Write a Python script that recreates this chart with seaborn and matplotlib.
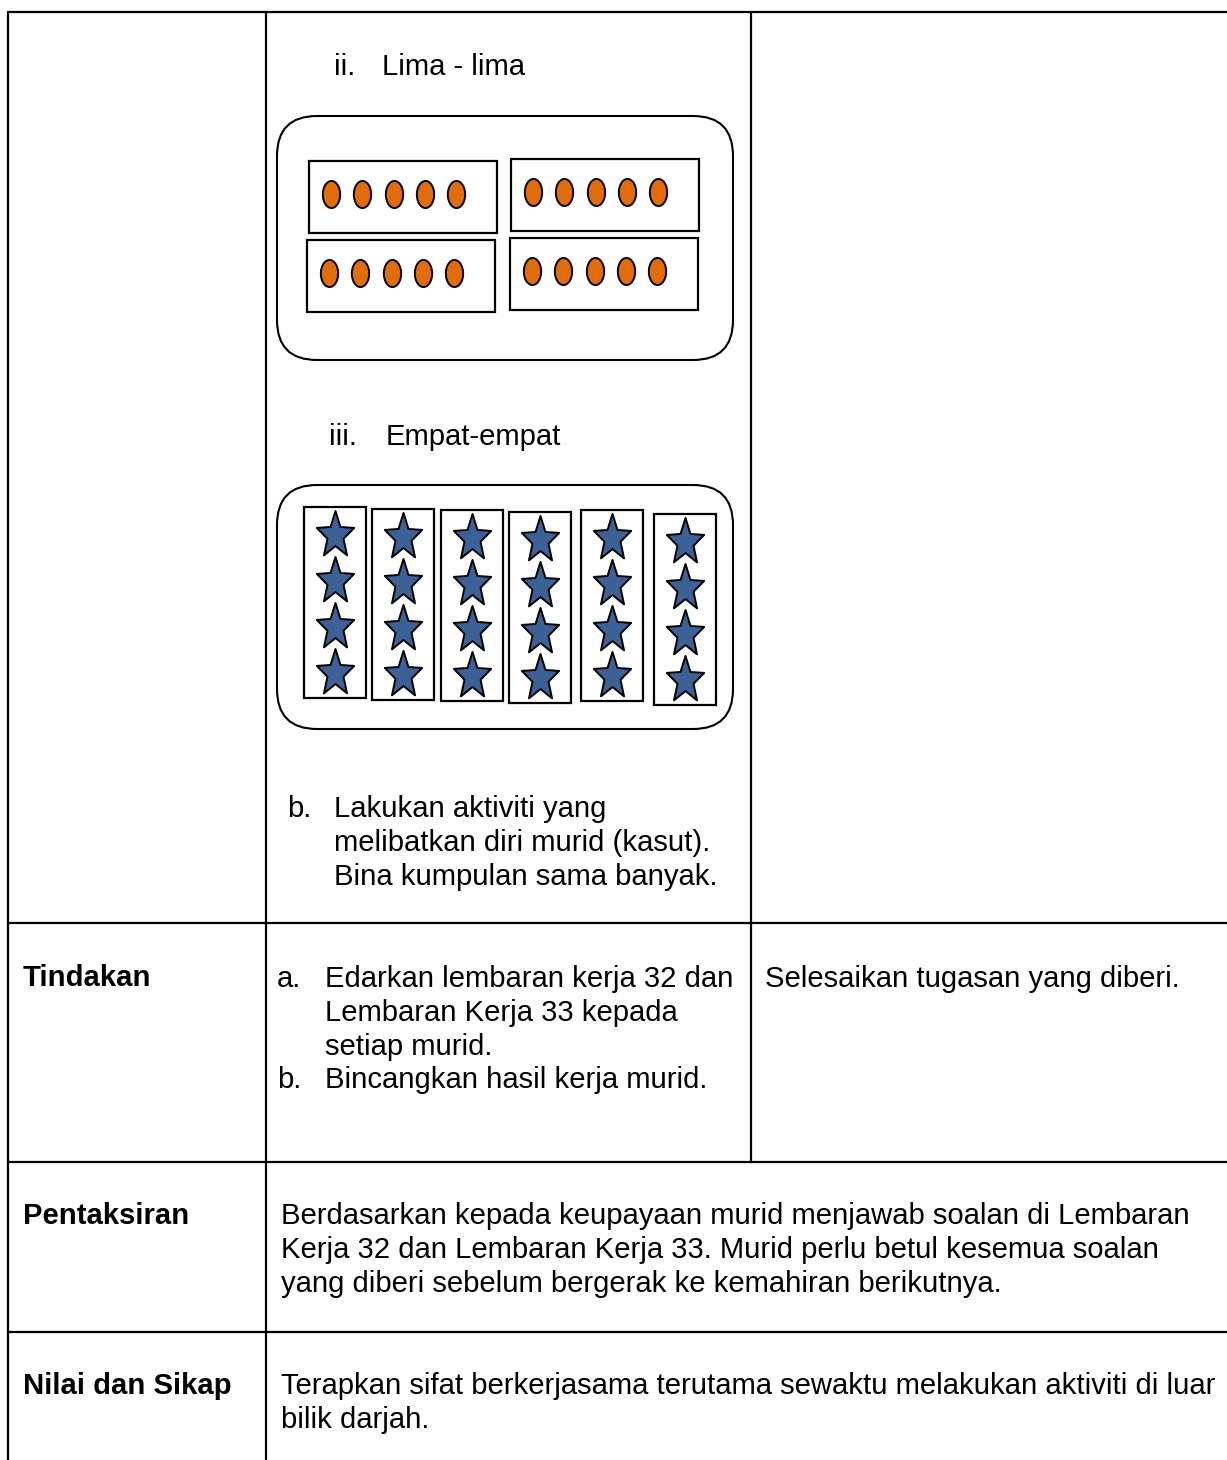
import numpy as np
import pandas as pd
import matplotlib
matplotlib.use("Agg")
import matplotlib.pyplot as plt
from matplotlib.patches import FancyBboxPatch, Rectangle
from matplotlib.path import Path
import seaborn as sns

# --- content -------------------------------------------------------------
# number of objects in each group of the two pictures
lima_groups = [5, 5, 5, 5]
empat_groups = [4, 4, 4, 4, 4, 4]

row_labels = ["Tindakan", "Pentaksiran", "Nilai dan Sikap"]
lima_title = ["ii.", "Lima - lima"]
empat_title = ["iii.", "Empat-empat"]
activity_b = ["Lakukan aktiviti yang",
              "melibatkan diri murid (kasut).",
              "Bina kumpulan sama banyak."]
tindakan_a = ["Edarkan lembaran kerja 32 dan",
              "Lembaran Kerja 33 kepada",
              "setiap murid."]
tindakan_b = ["Bincangkan hasil kerja murid."]
tindakan_murid = ["Selesaikan tugasan yang diberi."]
pentaksiran = ["Berdasarkan kepada keupayaan murid menjawab soalan di Lembaran",
               "Kerja 32 dan Lembaran Kerja 33. Murid perlu betul kesemua soalan",
               "yang diberi sebelum bergerak ke kemahiran berikutnya."]
nilai = ["Terapkan sifat berkerjasama terutama sewaktu melakukan aktiviti di luar",
         "bilik darjah."]

# --- layout (pixels) -------------------------------------------------------
W, H = 1227, 1460
FS = 21.1
LINE = 34
DY = 3
orange = "#E36C0A"
blue = "#3B6196"

# top-left corners of the inner boxes
lima_boxes = [(309, 161), (511, 159), (307, 240), (510, 238)]
lima_box_size = (188, 72)
empat_boxes = [(304, 507), (372, 509), (441, 510), (509, 512), (581, 510), (654, 514)]
empat_box_size = (62, 191)

sns.set_theme(style="white")
plt.rcParams["font.family"] = ["Liberation Sans", "DejaVu Sans"]

fig = plt.figure(figsize=(W / 100, H / 100), dpi=100)
ax = fig.add_axes([0, 0, 1, 1])
ax.set_xlim(0, W)
ax.set_ylim(H, 0)
ax.axis("off")

# table grid
lw = 1.6
ax.plot([8, W], [12, 12], color="black", lw=lw)
for y in [923, 1162, 1332]:
    ax.plot([8, W], [y, y], color="black", lw=lw)
ax.plot([8, 8], [12, H], color="black", lw=lw)
ax.plot([266, 266], [12, H], color="black", lw=lw)
ax.plot([751, 751], [12, 1162], color="black", lw=lw)

# rounded outer boxes
for (x0, y0, x1, y1) in [(277, 116, 733, 360), (277, 485, 733, 729)]:
    ax.add_patch(FancyBboxPatch((x0, y0), x1 - x0, y1 - y0,
                                boxstyle="round,pad=0,rounding_size=40",
                                fc="none", ec="black", lw=1.5))

# build points from the group counts
rows = []
for g, n in enumerate(lima_groups):
    bx, by = lima_boxes[g]
    for k in range(n):
        rows.append(dict(kind="oval", x=bx + 22 + 31.3 * k, y=by + 33))
for g, n in enumerate(empat_groups):
    bx, by = empat_boxes[g]
    for k in range(n):
        rows.append(dict(kind="star", x=bx + empat_box_size[0] / 2, y=by + 28 + 46 * k))
pts = pd.DataFrame(rows)

for bx, by in lima_boxes:
    ax.add_patch(Rectangle((bx, by), *lima_box_size, fc="none", ec="black", lw=1.6))
for bx, by in empat_boxes:
    ax.add_patch(Rectangle((bx, by), *empat_box_size, fc="none", ec="black", lw=1.6))

# marker shapes
t = np.linspace(0, 2 * np.pi, 60)
oval = Path(np.column_stack([0.64 * np.cos(t), np.sin(t)]), closed=True)
ang = np.pi / 2 + np.arange(10) * np.pi / 5
rad = np.where(np.arange(10) % 2 == 0, 1.0, 0.43)
star_v = np.column_stack([rad * np.cos(ang), 1.25 * rad * np.sin(ang)])
star = Path(np.vstack([star_v, star_v[:1]]), closed=True)

sns.scatterplot(data=pts[pts.kind == "oval"], x="x", y="y", marker=oval, s=380,
                color=orange, edgecolor="black", linewidth=1.4, ax=ax, zorder=3)
sns.scatterplot(data=pts[pts.kind == "star"], x="x", y="y", marker=star, s=1250,
                color=blue, edgecolor="black", linewidth=1.4, ax=ax, zorder=3)

# text
def lines(x, y0, items, bold=False):
    for i, s in enumerate(items):
        ax.text(x, y0 + DY + i * LINE, s, fontsize=FS, va="center", ha="left",
                fontweight="bold" if bold else "normal", color="black")

lines(334, 64, [lima_title[0]])
lines(382, 64, [lima_title[1]])
lines(329, 434, [empat_title[0]])
lines(386, 434, [empat_title[1]])
lines(287, 806, ["b."])
lines(334, 806, activity_b)

lines(23, 975, [row_labels[0]], bold=True)
lines(277, 976, ["a."])
lines(325, 976, tindakan_a)
lines(277, 1077, ["b."])
lines(325, 1077, tindakan_b)
lines(765, 976, tindakan_murid)

lines(23, 1213, [row_labels[1]], bold=True)
lines(281, 1213, pentaksiran)

lines(23, 1383, [row_labels[2]], bold=True)
lines(281, 1383, nilai)

fig.savefig("out.png", dpi=100)
